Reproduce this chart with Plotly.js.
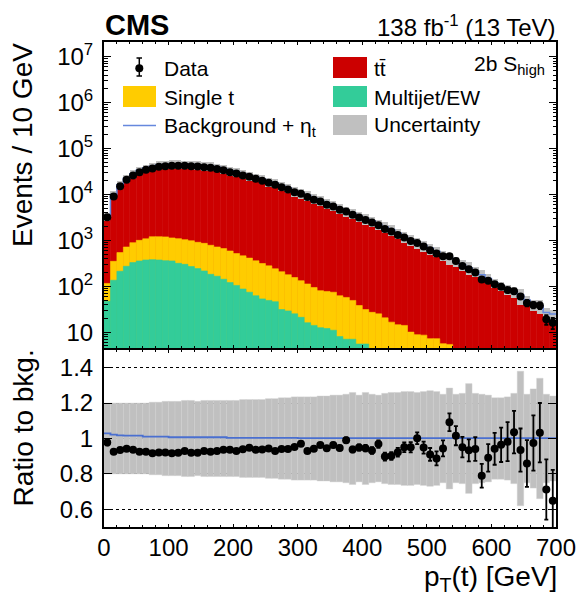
<!DOCTYPE html>
<html><head><meta charset="utf-8">
<script src="https://cdn.plot.ly/plotly-3.0.1.min.js"></script>
<style>html,body{margin:0;padding:0;background:#fff}#plot{width:580px;height:604px}</style>
</head><body><div id="plot"></div>
<script>
// ---- bin edges in GeV (10 GeV bins, 0-700) ----
const binEdges = Array.from({length: 71}, (_, i) => i * 10);

// ---- observed events per bin ----
const dataCounts = [3200, 9000, 15000, 21000, 26000, 30500, 34500, 37000, 40000, 41000,
  42000, 42000, 42000, 41000, 40500, 39000, 38000, 36000, 33500, 30500,
  28600, 26000, 24200, 21900, 20000, 17900, 16200, 14400, 12900, 11200,
  10300, 8800, 7700, 7050, 5970, 5480, 4640, 4270, 3610, 3160,
  2760, 2450, 2140, 1760, 1550, 1310, 1150, 970, 875, 730,
  610, 515, 449, 449, 355, 276, 235, 198, 140, 131,
  110, 97, 83, 78, 60, 43, 39, 38, 19, 16];

// ---- backgrounds ----
const ttbar = [3157, 9381, 15500, 21574, 26860, 31970, 36220, 39190, 42230, 43330,
  44720, 44610, 44174, 43630, 43164, 41120, 40300, 38034, 35090, 31965,
  30275, 27230, 25120, 23012, 21027, 18682, 17200, 15113, 13542, 11605,
  10478, 9358, 8076, 7240, 6243, 5616, 4838, 4253, 3801, 3292,
  2889, 2603, 2185, 1940, 1704, 1406, 1196, 1010, 865, 761,
  663, 573, 470, 406, 346, 287, 249, 208, 175, 145,
  115, 99, 83, 74, 63, 49, 39, 36, 26, 24];
const singleT = [68, 214, 328, 444, 563, 645, 707, 820, 827, 829,
  774, 774, 736, 712, 664, 645, 598, 551, 518, 465,
  411, 373, 336, 296, 260, 229, 194, 176, 149, 130,
  111, 96, 80, 67.5, 65, 63, 54, 50, 42, 32.5,
  25.5, 23, 21.5, 17.5, 14, 12, 12, 8, 7.3, 7.1,
  6, 6, 4.6, 4.4, 2.7, 2.5, 2.2, 2, 1.8, 1.6,
  1.4, 1.2, 1.1, 1, 0.9, 0.8, 0.7, 0.6, 0.5, 0.5];
const multijetEW = [47, 135, 212, 272, 327, 355, 373, 380, 373, 361,
  356, 316, 300, 268, 242, 215, 182, 165, 142, 120,
  104, 87, 74, 62, 53, 49, 46, 31, 29, 25,
  21, 16, 14, 12.5, 12, 11, 8, 7, 7, 5.5,
  5.5, 4, 3.5, 3, 2.5, 2.5, 2, 2, 1.5, 1.5,
  1.2, 1.2, 1, 1, 0.8, 0.7, 0.6, 0.6, 0.5, 0.5,
  0.4, 0.4, 0.4, 0.3, 0.3, 0.3, 0.3, 0.2, 0.2, 0.2];

// ---- (background + eta_t) / background ----
const sigOverBkg = [1.029, 1.022, 1.018, 1.016, 1.016, 1.016, 1.011, 1.010, 1.010, 1.010,
  1.007, 1.007, 1.007, 1.007, 1.007, 1.007, 1.007, 1.007, 1.007, 1.003,
  1.003, 1.003, 1.003, 1.003, 1.003, 1.003, 1.003, 1.003, 1.003, 1.003,
  1.002, 1.002, 1.002, 1.002, 1.002, 1.002, 1.002, 1.002, 1.002, 1.002,
  1.002, 1.002, 1.002, 1.002, 1.002, 1.002, 1.002, 1.002, 1.002, 1.002,
  1.002, 1.002, 1.002, 1.002, 1.002, 1.002, 1.002, 1.002, 1.002, 1.002,
  1.002, 1.002, 1.002, 1.002, 1.002, 1.002, 1.002, 1.002, 1.002, 1.002];

// ---- relative background uncertainty (half width) ----
const uncRel = [0.20, 0.20, 0.20, 0.20, 0.20, 0.20, 0.20, 0.205, 0.205, 0.21,
  0.21, 0.21, 0.215, 0.215, 0.21, 0.215, 0.215, 0.215, 0.215, 0.215,
  0.215, 0.22, 0.22, 0.22, 0.22, 0.225, 0.225, 0.23, 0.23, 0.235,
  0.235, 0.235, 0.235, 0.24, 0.24, 0.245, 0.245, 0.25, 0.26, 0.245,
  0.26, 0.25, 0.245, 0.255, 0.26, 0.26, 0.265, 0.265, 0.26, 0.265,
  0.27, 0.265, 0.25, 0.285, 0.25, 0.255, 0.31, 0.255, 0.25, 0.245,
  0.23, 0.23, 0.235, 0.255, 0.38, 0.25, 0.28, 0.34, 0.25, 0.24];

// ---- data statistical error relative to background ----
const dataErrRatio = [0.017, 0.010, 0.008, 0.007, 0.006, 0.005, 0.005, 0.005, 0.005, 0.005,
  0.005, 0.005, 0.005, 0.005, 0.005, 0.005, 0.005, 0.005, 0.006, 0.006,
  0.006, 0.006, 0.006, 0.007, 0.007, 0.007, 0.007, 0.008, 0.008, 0.008,
  0.009, 0.010, 0.011, 0.012, 0.012, 0.013, 0.014, 0.015, 0.016, 0.017,
  0.018, 0.019, 0.021, 0.022, 0.022, 0.025, 0.027, 0.029, 0.033, 0.034,
  0.036, 0.040, 0.045, 0.050, 0.054, 0.058, 0.062, 0.067, 0.067, 0.078,
  0.090, 0.097, 0.110, 0.120, 0.122, 0.132, 0.156, 0.168, 0.170, 0.175];

// ---- axis ticks ----
const xTickVals = [0, 100, 200, 300, 400, 500, 600, 700];
const yTickVals = [10, 100, 1e3, 1e4, 1e5, 1e6, 1e7];
const yTickText = ['10', '10<sup>2</sup>', '10<sup>3</sup>', '10<sup>4</sup>', '10<sup>5</sup>', '10<sup>6</sup>', '10<sup>7</sup>'];
const rTickVals = [0.6, 0.8, 1, 1.2, 1.4];
const rTickText = ['0.6', '0.8', '1', '1.2', '1.4'];

// ---- derived tables ----
const xc = binEdges.slice(0, -1).map((e, i) => (e + binEdges[i + 1]) / 2);
const bw = binEdges.slice(0, -1).map((e, i) => binEdges[i + 1] - e);
const lowStack = multijetEW;
const midStack = multijetEW.map((v, i) => v + singleT[i]);
const total = midStack.map((v, i) => v + ttbar[i]);
const ratio = dataCounts.map((v, i) => v / total[i]);
const dataErr = dataErrRatio.map((r, i) => r * total[i]);
const step = arr => arr.concat([arr[arr.length - 1]]);
const minorLog = [];
for (let p = 0; p < 8; p++) for (let m = 2; m <= 9; m++) minorLog.push(m * Math.pow(10, p));

const RED = '#cc0000', YEL = '#ffcc00', GRN = '#33cc99', GRY = '#c0c0c0', BLU = '#6688dd';
const barBase = total.map(() => 1e-3);

const traces = [
  {type: 'bar', x: xc, y: total.map((v, i) => v - barBase[i]), base: barBase, width: bw,
   marker: {color: RED, line: {width: 0.6, color: RED}}, xaxis: 'x', yaxis: 'y', hoverinfo: 'skip'},
  {type: 'bar', x: xc, y: midStack.map((v, i) => v - barBase[i]), base: barBase, width: bw,
   marker: {color: YEL, line: {width: 0.6, color: YEL}}, xaxis: 'x', yaxis: 'y', hoverinfo: 'skip'},
  {type: 'bar', x: xc, y: lowStack.map((v, i) => v - barBase[i]), base: barBase, width: bw,
   marker: {color: GRN, line: {width: 0.6, color: GRN}}, xaxis: 'x', yaxis: 'y', hoverinfo: 'skip'},
  {type: 'bar', x: xc, y: total.map((v, i) => 2 * uncRel[i] * v), base: total.map((v, i) => v * (1 - uncRel[i])), width: bw,
   marker: {color: GRY, line: {width: 0}}, xaxis: 'x', yaxis: 'y', hoverinfo: 'skip'},
  {type: 'scatter', mode: 'lines', x: binEdges, y: step(total.map((v, i) => v * sigOverBkg[i])),
   line: {shape: 'hv', color: BLU, width: 1.5}, xaxis: 'x', yaxis: 'y', hoverinfo: 'skip'},
  {type: 'scatter', mode: 'markers', x: xc, y: dataCounts,
   marker: {color: 'black', size: 8},
   error_y: {type: 'data', array: dataErr, color: 'black', thickness: 1.8, width: 2},
   xaxis: 'x', yaxis: 'y', hoverinfo: 'skip'},
  // ratio panel
  {type: 'bar', x: xc, y: uncRel.map(u => 2 * u), base: uncRel.map(u => 1 - u), width: bw,
   marker: {color: GRY, line: {width: 0.4, color: '#d0d0d0'}}, xaxis: 'x2', yaxis: 'y2', hoverinfo: 'skip'},
  {type: 'scatter', mode: 'lines', x: binEdges, y: step(sigOverBkg),
   line: {shape: 'hv', color: '#4a6fd0', width: 1.8}, xaxis: 'x2', yaxis: 'y2', hoverinfo: 'skip'},
  {type: 'scatter', mode: 'markers', x: xc, y: ratio,
   marker: {color: 'black', size: 8},
   error_y: {type: 'data', array: dataErrRatio, color: 'black', thickness: 1.8, width: 2},
   xaxis: 'x2', yaxis: 'y2', hoverinfo: 'skip'}
];

// pixel -> paper helpers for decorations (plot area 104..556 x 42..527)
const L = 104, R = 556, T = 42, B = 527;
const px = v => (v - L) / (R - L);
const py = v => (B - v) / (B - T);
const FONT = 'Liberation Sans, Arial, Helvetica, sans-serif';

const box = (x0, y0, x1, y1, c) => ({type: 'rect', xref: 'paper', yref: 'paper',
  x0: px(x0), x1: px(x1), y0: py(y1), y1: py(y0), fillcolor: c, line: {width: 0}, layer: 'above'});
const seg = (x0, y0, x1, y1, c, w) => ({type: 'line', xref: 'paper', yref: 'paper',
  x0: px(x0), x1: px(x1), y0: py(y0), y1: py(y1), line: {color: c, width: w}, layer: 'above'});

const shapes = [
  box(123, 86, 156, 107, YEL),
  box(333, 57, 367, 78, RED),
  box(333, 86, 367, 107, GRN),
  box(333, 115, 367, 135, GRY),
  seg(123, 125.5, 156, 125.5, BLU, 1.5),
  seg(139.3, 58, 139.3, 76, 'black', 1.5),
  seg(136.5, 58, 142, 58, 'black', 1.5),
  seg(136.5, 76, 142, 76, 'black', 1.5),
  {type: 'circle', xref: 'paper', yref: 'paper', x0: px(135.3), x1: px(143.3), y0: py(72.2), y1: py(64.2),
   fillcolor: 'black', line: {width: 0}, layer: 'above'}
];

const ann = (x, y, text, size, xanchor, extra) => Object.assign({xref: 'paper', yref: 'paper', x: px(x), y: py(y),
  text: text, showarrow: false, xanchor: xanchor, yanchor: 'middle', borderpad: 0,
  font: {family: FONT, size: size, color: 'black'}}, extra || {});

const annotations = [
  ann(104, 25, '<b>CMS</b>', 29, 'left'),
  ann(557, 26, '138 fb<sup>-1</sup> (13 TeV)', 24, 'right'),
  ann(546, 65, '2b S<sub>high</sub>', 21, 'right'),
  ann(163, 68, 'Data', 21, 'left'),
  ann(163, 97, 'Single t', 21, 'left'),
  ann(163, 127, 'Background + η<sub>t</sub>', 21, 'left'),
  ann(373, 68, 'tt\u0304', 21, 'left'),
  ann(373, 97, 'Multijet/EW', 21, 'left'),
  ann(373, 125, 'Uncertainty', 21, 'left'),
  ann(22, 42, 'Events / 10 GeV', 28, 'center', {textangle: -90, yanchor: 'top'}),
  ann(23, 349, 'Ratio to bkg.', 28, 'center', {textangle: -90, yanchor: 'top'}),
  ann(558, 560, 'p<sub>T</sub>(t) [GeV]', 28, 'right', {yanchor: 'top'})
];

const axCommon = {showline: true, linecolor: 'black', linewidth: 2, mirror: 'ticks', ticks: 'inside',
  tickcolor: 'black', tickwidth: 1, zeroline: false, showgrid: false,
  tickfont: {family: FONT, size: 24, color: 'black'}};

const layout = {
  width: 580, height: 604,
  margin: {l: L, r: 580 - R, t: T, b: 604 - B, pad: 0},
  paper_bgcolor: 'white', plot_bgcolor: 'white',
  showlegend: false, barmode: 'overlay', bargap: 0,
  font: {family: FONT, color: 'black'},
  xaxis: Object.assign({}, axCommon, {domain: [0, 1], anchor: 'y', range: [0, 700], tickvals: xTickVals,
    showticklabels: false, ticklen: 3, minor: {ticks: 'inside', ticklen: 2, dtick: 20, tick0: 0, tickcolor: 'black'}}),
  yaxis: Object.assign({}, axCommon, {domain: [0.369, 1], anchor: 'x', type: 'log', range: [Math.log10(4.5), Math.log10(2.1e7)],
    tickvals: yTickVals, ticktext: yTickText, ticklen: 7, ticklabelstandoff: 4,
    minor: {ticks: 'inside', ticklen: 3.5, tickmode: 'array', tickvals: minorLog, tickcolor: 'black'}}),
  xaxis2: Object.assign({}, axCommon, {domain: [0, 1], anchor: 'y2', range: [0, 700], tickvals: xTickVals,
    ticklen: 3.5, ticklabelstandoff: -2, minor: {ticks: 'inside', ticklen: 2, dtick: 20, tick0: 0, tickcolor: 'black'}}),
  yaxis2: Object.assign({}, axCommon, {domain: [0, 0.365], anchor: 'x2', range: [0.5, 1.5],
    tickvals: rTickVals, ticktext: rTickText, ticklen: 8, ticklabelstandoff: 4,
    showgrid: true, gridcolor: 'black', gridwidth: 1, griddash: 'dot'}),
  shapes: shapes,
  annotations: annotations
};

Plotly.newPlot('plot', traces, layout, {staticPlot: true, displayModeBar: false});
</script>
</body></html>
